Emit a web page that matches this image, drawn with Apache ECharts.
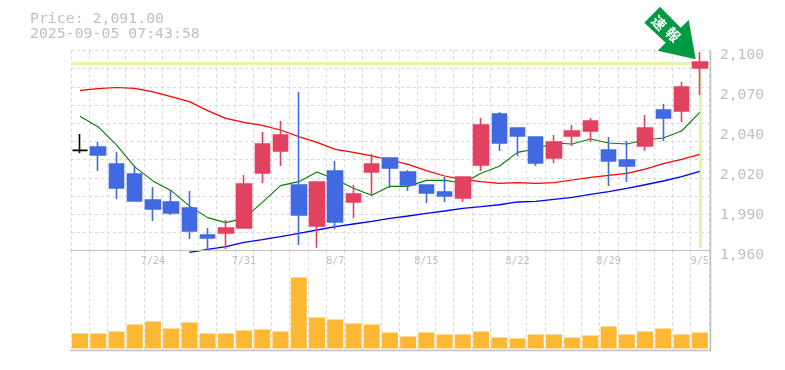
<!DOCTYPE html>
<html>
<head>
<meta charset="utf-8">
<style>html,body{margin:0;padding:0;background:#fff}#c{width:785px;height:370px}</style>
<script src="https://cdn.jsdelivr.net/npm/echarts@6/dist/echarts.min.js"></script>
</head>
<body>
<div id="c"></div>
<script>
const categories = ['7/17','7/18','7/22','7/23','7/24','7/25','7/28','7/29','7/30','7/31','8/1','8/4','8/5','8/6','8/7','8/8','8/12','8/13','8/14','8/15','8/18','8/19','8/20','8/21','8/22','8/25','8/26','8/27','8/28','8/29','9/1','9/2','9/3','9/4','9/5'];
const labelledDates = ['7/24','7/31','8/7','8/15','8/22','8/29','9/5'];
const priceTicks = {2100:'2,100',2072:'2,070',2044:'2,040',2016:'2,020',1988:'1,990',1960:'1,960'};
const candleKinds = ['k','b','b','b','b','b','b','b','r','r','r','r','b','r','b','r','r','b','b','b','b','r','r','b','b','b','r','r','r','b','b','r','b','r','r'];
const bodyTop = [2030.1,2032.5,2020.5,2013.5,1995.4,1994,1989.8,1970.9,1975.8,2006.6,2034.6,2040.9,2005.9,2008,2015.7,1999.6,2020.6,2024.8,2015,2005.9,2001,2011.5,2047.9,2055.6,2045.8,2039.5,2036,2043.7,2050.7,2030.4,2023.4,2045.8,2058.4,2074.5,2092];
const bodyBottom = [2030.1,2026.9,2003.8,1994.7,1989,1986.3,1973.7,1968.8,1972.3,1975.8,2014.3,2029.7,1984.9,1977.2,1980,1994,2015,2017.8,2005.9,2000.3,1998.2,1996.8,2019.9,2035.3,2040.2,2021.3,2024.8,2040.2,2043.7,2022.7,2019.2,2033.2,2052.8,2057.7,2087.8];
const lows = [2028,2015.7,1996,1994.7,1980.7,1984.9,1968,1960.3,1961,1975.8,2007.3,2019.2,1963.9,1962,1975,1982.8,1998,2003.8,2001.7,1993.3,1994,1994,2015.7,2029.7,2026.2,2019.2,2021.3,2033.2,2036,2005.2,2008,2029.7,2036.7,2050,2068.9];
const highs = [2041.5,2036,2029,2019.6,2004.5,2002.4,2001.7,1975.8,1981.4,2012.9,2043,2050.7,2071,2008,2022.7,2005.9,2027.6,2024.8,2016.4,2005.9,2011.5,2011.5,2052.8,2057,2045.8,2039.5,2040.9,2047.9,2052.8,2039.5,2036.7,2054.9,2062.6,2078,2099];
const maShort = [2054,2046.5,2033.9,2018.5,2008.7,2001.9,1991.2,1983,1979.5,1982.5,1993.7,2005.4,2008.2,2015,2009.8,2003.5,1998.6,2004.9,2004.9,2009.1,2009.1,2007.25,2014,2019,2028.7,2031,2035.3,2034.5,2038,2035.3,2034.5,2037.4,2038.75,2043.65,2056.7];
const maMid = [2072.1,2073.3,2074.1,2073.5,2071,2067.7,2064.2,2057.9,2052.5,2049.7,2047.6,2044.35,2039.7,2035.7,2030.8,2028.7,2026.2,2023.35,2020.3,2015.9,2012.15,2009.8,2008.2,2007,2007.5,2007,2007.5,2009.35,2011.2,2012.6,2014,2017,2020.8,2023.8,2027.3];
const maLong = [null,null,null,null,null,null,1958.7,1960.8,1962.7,1965.7,1967.6,1969.7,1972,1974.35,1976.7,1978.55,1980.4,1982.5,1984.15,1986,1987.65,1989.5,1990.7,1992,1994,1994.4,1995.8,1997.2,1999.3,2001.2,2003.5,2006,2008.65,2011.7,2015.4];
const volumes = [15,15,17,24,27,20,26,15,15,18,19,17,71,31,29,25,24,16,12,16,14,14,17,11,10,14,14,11,13,22,14,17,20,14,16];
const lastPrice = 2091;
const priceText = 'Price: 2,091.00';
const stampText = '2025-09-05 07:43:58';
const arrowText = ['速','報'];

const RED='#E2425F', BLUE='#4169E1', GREY='#c0c0c0', GRID='#d8d8d8', HILITE='#E2F5A9';
const MONO='"DejaVu Sans Mono","Liberation Mono",monospace';
const kindColor={k:'#000',b:BLUE,r:RED};
const candleData = categories.map((c,i)=>{
  const col=kindColor[candleKinds[i]];
  return {value:[bodyTop[i],bodyBottom[i],lows[i],highs[i]],
    itemStyle:{color:col,color0:col,borderColor:col,borderColor0:col,borderColorDoji:col}};
});
const split={show:true,lineStyle:{color:GRID,width:1,type:[3,3]}};
const chart=echarts.init(document.getElementById('c'),null,{renderer:'canvas'});
const L=70.9,W=638;
chart.setOption({
  animation:false,backgroundColor:'#fff',
  grid:[
    {left:L,top:50.5,width:W,height:200},
    {left:L,top:250.5,width:W,height:100}
  ],
  xAxis:[
    {type:'category',gridIndex:0,data:categories,boundaryGap:true,
     axisLine:{show:false},axisTick:{show:false},
     splitLine:Object.assign({interval:0},split),
     axisLabel:{interval:(i,v)=>labelledDates.includes(v),color:GREY,fontFamily:MONO,fontSize:10,margin:6,hideOverlap:false}},
    {type:'category',gridIndex:1,data:categories,boundaryGap:true,
     axisLine:{show:false},axisTick:{show:false},axisLabel:{show:false},
     splitLine:Object.assign({interval:0},split)}
  ],
  yAxis:[
    {type:'value',gridIndex:0,position:'right',min:1960,max:2100,interval:28,
     axisLine:{show:false},axisTick:{show:false},splitLine:{show:false},
     axisLabel:{formatter:v=>priceTicks[v]||'',color:GREY,fontFamily:MONO,fontSize:14.7,margin:11,lineHeight:21,verticalAlign:'top',padding:[-6,0,0,0]}},
    {type:'value',gridIndex:0,position:'left',min:0,max:11,interval:1,show:true,
     axisLine:{show:false},axisTick:{show:false},axisLabel:{show:false},splitLine:split},
    {type:'value',gridIndex:1,min:-2,max:98,show:false,splitLine:{show:false}}
  ],
  series:[
    {type:'line',xAxisIndex:0,yAxisIndex:0,data:[],z:1,silent:true,
     markLine:{silent:true,symbol:'none',z:1,animation:false,label:{show:false},
       lineStyle:{color:HILITE,width:3,type:'solid'},
       data:[
         {yAxis:lastPrice},
         [{coord:[categories[34],lastPrice]},{coord:[categories[34],1962]}]
       ]}},
    {name:'short',type:'line',xAxisIndex:0,yAxisIndex:0,data:maShort,symbol:'none',z:2,clip:false,lineStyle:{color:'#008000',width:1.1}},
    {name:'mid',type:'line',xAxisIndex:0,yAxisIndex:0,data:maMid,symbol:'none',z:2,clip:false,lineStyle:{color:'#ff0000',width:1.2}},
    {name:'long',type:'line',xAxisIndex:0,yAxisIndex:0,data:maLong,symbol:'none',z:2,clip:false,lineStyle:{color:'#0000ff',width:1.4}},
    {name:'price',type:'candlestick',xAxisIndex:0,yAxisIndex:0,z:3,clip:false,barWidth:15,data:candleData,itemStyle:{borderWidth:1.6}},
    {name:'vol',type:'bar',xAxisIndex:1,yAxisIndex:2,barWidth:16,data:volumes,z:3,itemStyle:{color:'#FFB833'}}
  ],
  graphic:[
    {type:'text',left:30,top:12,style:{text:priceText+'\n'+stampText,font:'14.85px '+MONO,lineHeight:15,fill:GREY}},
    {type:'polyline',shape:{points:[[70,250.5],[710.5,250.5]]},style:{stroke:GREY,lineWidth:1,fill:null},z:5},
    {type:'polyline',shape:{points:[[70,350.5],[710.5,350.5],[710.5,50]]},style:{stroke:GREY,lineWidth:1.5,fill:null},z:5},
    {type:'polygon',z:10,shape:{points:[[644.3,22.7],[660,6.7],[680.7,27.7],[688.7,20],[695.7,59.3],[657.7,50.7],[665.7,42.7]]},style:{fill:'#009944'}},
    {type:'text',z:11,x:659,y:23,rotation:-Math.PI/4,style:{text:arrowText[0],font:'bold 14px "Noto Sans CJK JP"',fill:'#fff',align:'center',verticalAlign:'middle'}},
    {type:'text',z:11,x:673,y:34.5,rotation:-Math.PI/4,style:{text:arrowText[1],font:'bold 14px "Noto Sans CJK JP"',fill:'#fff',align:'center',verticalAlign:'middle'}}
  ]
});
</script>
</body>
</html>
